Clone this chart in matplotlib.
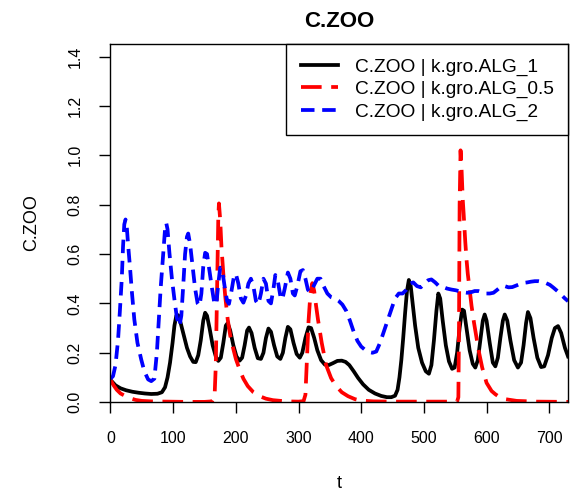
import numpy as np
import matplotlib
matplotlib.use("Agg")
import matplotlib.pyplot as plt

plt.rcParams["font.family"] = ["Liberation Sans", "DejaVu Sans"]

# ---- data ----
t_k1 = [0, 8, 16, 25, 35, 45, 55, 65, 75, 82, 87, 91, 95, 99, 102, 105, 108, 112, 117, 122,
        127, 132, 136, 140, 144, 148, 151, 154, 158, 163, 168, 172, 176, 180, 184, 187, 191,
        196, 201, 206, 210, 214, 218, 221, 225, 230, 235, 240, 244, 248, 252, 256, 261, 266,
        271, 275, 279, 283, 287, 292, 297, 302, 306, 311, 316, 320, 325, 330, 336, 342, 348,
        355, 362, 369, 375, 381, 388, 395, 403, 412, 422, 432, 441, 448, 454, 458, 461, 464,
        467, 470, 473, 476, 479, 482, 486, 491, 497, 503, 508, 512, 516, 520, 523, 526, 530,
        535, 540, 545, 549, 553, 557, 561, 564, 568, 573, 578, 582, 586, 590, 594, 597, 600,
        605, 610, 614, 618, 622, 626, 629, 633, 638, 644, 650, 655, 659, 663, 666, 670, 675,
        681, 687, 692, 698, 704, 709, 714, 719, 725, 730]
zoo_k1 = [0.09, 0.068, 0.056, 0.048, 0.042, 0.038, 0.035, 0.033, 0.034, 0.04, 0.06, 0.1, 0.16,
          0.24, 0.31, 0.35, 0.352, 0.32, 0.27, 0.22, 0.185, 0.163, 0.162, 0.19, 0.25, 0.33,
          0.362, 0.35, 0.3, 0.23, 0.185, 0.167, 0.18, 0.24, 0.31, 0.32, 0.29, 0.23, 0.185,
          0.168, 0.18, 0.23, 0.29, 0.302, 0.28, 0.22, 0.178, 0.175, 0.2, 0.26, 0.298, 0.285,
          0.23, 0.185, 0.175, 0.2, 0.26, 0.305, 0.295, 0.24, 0.195, 0.18, 0.2, 0.26, 0.303,
          0.3, 0.26, 0.21, 0.17, 0.152, 0.15, 0.158, 0.167, 0.168, 0.163, 0.15, 0.125, 0.098,
          0.072, 0.05, 0.035, 0.025, 0.02, 0.02, 0.026, 0.05, 0.1, 0.17, 0.26, 0.36, 0.45,
          0.495, 0.47, 0.4, 0.31, 0.22, 0.16, 0.125, 0.115, 0.15, 0.25, 0.37, 0.44, 0.42,
          0.33, 0.23, 0.165, 0.135, 0.14, 0.2, 0.3, 0.375, 0.37, 0.3, 0.21, 0.155, 0.14,
          0.17, 0.25, 0.33, 0.355, 0.33, 0.24, 0.16, 0.145, 0.18, 0.26, 0.33, 0.355, 0.33,
          0.25, 0.17, 0.14, 0.16, 0.23, 0.32, 0.365, 0.34, 0.26, 0.18, 0.142, 0.145, 0.19,
          0.26, 0.3, 0.308, 0.28, 0.22, 0.185]

t_k05 = [0, 5, 10, 16, 22, 30, 40, 50, 65, 90, 120, 150, 162, 166, 168, 170, 172, 173, 175,
         177, 180, 183, 187, 191, 195, 200, 206, 212, 219, 228, 238, 248, 259, 280, 300, 308,
         311, 313, 316, 319, 322, 325, 328, 331, 337, 344, 352, 360, 369, 379, 390, 400, 420,
         450, 553, 555, 556, 557, 558.5, 560, 562, 563.5, 566, 568, 570, 573, 576, 580, 584,
         587, 593, 600, 608, 614, 621, 630, 648, 680, 730]
zoo_k05 = [0.09, 0.068, 0.05, 0.035, 0.027, 0.017, 0.009, 0.005, 0.003, 0.002, 0.001, 0.001,
           0.003, 0.02, 0.15, 0.45, 0.75, 0.805, 0.74, 0.63, 0.52, 0.43, 0.335, 0.27, 0.225,
           0.175, 0.132, 0.095, 0.065, 0.04, 0.024, 0.014, 0.008, 0.003, 0.002, 0.004, 0.03,
           0.15, 0.33, 0.44, 0.482, 0.45, 0.39, 0.335, 0.24, 0.15, 0.097, 0.065, 0.04, 0.024,
           0.012, 0.006, 0.003, 0.002, 0.002, 0.02, 0.3, 0.8, 1.02, 0.95, 0.82, 0.76, 0.65,
           0.578, 0.52, 0.456, 0.39, 0.321, 0.26, 0.213, 0.14, 0.078, 0.045, 0.032, 0.02,
           0.012, 0.005, 0.002, 0.001]

t_k2 = [0, 4, 8, 12, 15, 18, 20, 22, 24, 26, 28, 31, 34, 38, 43, 49, 54, 60, 65, 70, 74, 77,
        80, 84, 87, 89, 91, 94, 98, 102, 106, 110, 113, 116, 119, 122, 124, 127, 131, 135, 139,
        142, 145, 148, 151, 154, 158, 162, 166, 169, 172, 175, 178, 182, 186, 189, 193, 197,
        200, 204, 208, 212, 216, 220, 224, 228, 232, 236, 240, 244, 248, 252, 256, 260, 263,
        267, 271, 274, 278, 283, 287, 291, 294, 298, 303, 307, 311, 315, 319, 324, 330, 335,
        340, 346, 352, 358, 364, 370, 376, 382, 388, 394, 400, 406, 412, 418, 424, 430, 436,
        442, 448, 454, 460, 466, 472, 478, 483, 489, 495, 501, 507, 512, 518, 524, 530, 537,
        544, 551, 557, 563, 569, 575, 581, 587, 593, 599, 605, 611, 617, 623, 629, 635, 641,
        647, 653, 659, 665, 671, 677, 683, 689, 695, 701, 707, 713, 719, 725, 730]
zoo_k2 = [0.095, 0.105, 0.15, 0.25, 0.37, 0.5, 0.63, 0.72, 0.74, 0.71, 0.64, 0.55, 0.45,
          0.335, 0.24, 0.173, 0.125, 0.092, 0.085, 0.095, 0.2, 0.33, 0.46, 0.6, 0.7, 0.725,
          0.7, 0.605, 0.5, 0.416, 0.34, 0.308, 0.35, 0.47, 0.6, 0.67, 0.683, 0.64, 0.55, 0.46,
          0.4, 0.39, 0.44, 0.55, 0.605, 0.6, 0.53, 0.46, 0.395, 0.4, 0.48, 0.545, 0.54, 0.47,
          0.41, 0.398, 0.45, 0.51, 0.52, 0.48, 0.42, 0.403, 0.43, 0.48, 0.5, 0.47, 0.41,
          0.396, 0.44, 0.5, 0.48, 0.41, 0.4, 0.46, 0.515, 0.49, 0.43, 0.415, 0.46, 0.525, 0.5,
          0.44, 0.432, 0.47, 0.53, 0.535, 0.5, 0.455, 0.445, 0.47, 0.5, 0.5, 0.47, 0.44, 0.425,
          0.42, 0.41, 0.395, 0.37, 0.33, 0.285, 0.248, 0.225, 0.212, 0.203, 0.2, 0.205, 0.24,
          0.285, 0.33, 0.375, 0.42, 0.44, 0.44, 0.455, 0.48, 0.485, 0.47, 0.465, 0.48, 0.494,
          0.497, 0.485, 0.47, 0.467, 0.46, 0.456, 0.453, 0.449, 0.445, 0.443, 0.445, 0.45,
          0.45, 0.445, 0.44, 0.44, 0.443, 0.455, 0.468, 0.47, 0.465, 0.466, 0.472, 0.478,
          0.483, 0.485, 0.488, 0.49, 0.49, 0.487, 0.482, 0.475, 0.463, 0.45, 0.435, 0.42, 0.409]

labels = ["C.ZOO | k.gro.ALG_1", "C.ZOO | k.gro.ALG_0.5", "C.ZOO | k.gro.ALG_2"]
x_ticks = [0, 100, 200, 300, 400, 500, 600, 700]
y_ticks = [0.0, 0.2, 0.4, 0.6, 0.8, 1.0, 1.2, 1.4]

# ---- figure ----
fig = plt.figure(figsize=(5.77, 4.91), dpi=100)
ax = fig.add_axes([0.1915, 0.181, 0.793, 0.729])

lw = 2.7
ax.plot(t_k1, zoo_k1, color="black", lw=lw, label=labels[0])
ax.plot(t_k05, zoo_k05, color="red", lw=lw, dashes=(5.5, 2.55), label=labels[1])
ax.plot(t_k2, zoo_k2, color="blue", lw=lw, dashes=(3.6, 2.05), label=labels[2])

ax.set_xlim(0, 730)
ax.set_ylim(0, 1.45)
ax.set_xticks(x_ticks)
ax.set_xticklabels([str(v) for v in x_ticks])
ax.set_yticks(y_ticks)
ax.set_yticklabels([f"{v:.1f}" for v in y_ticks], rotation=90, va="center")
ax.tick_params(axis="both", length=8, width=1, labelsize=11.5, direction="out")
ax.tick_params(axis="x", pad=13)
ax.tick_params(axis="y", pad=12)
for s in ax.spines.values():
    s.set_linewidth(1)

leg = ax.legend(loc="upper right", bbox_to_anchor=(1, 1), borderaxespad=0,
                fancybox=False, edgecolor="black", framealpha=1, fontsize=13.8,
                handlelength=1.93, handletextpad=0.9, labelspacing=0.24,
                borderpad=0.75)
leg.get_frame().set_linewidth(1)

fig.text(0.5877, 0.957, "C.ZOO", ha="center", va="center", fontsize=16, fontweight="bold")
fig.text(0.5877, 0.0143, "t", ha="center", va="center", fontsize=13)
fig.text(0.055, 0.547, "C.ZOO", ha="center", va="center", rotation=90, fontsize=13)

fig.savefig("out.png", dpi=100)
